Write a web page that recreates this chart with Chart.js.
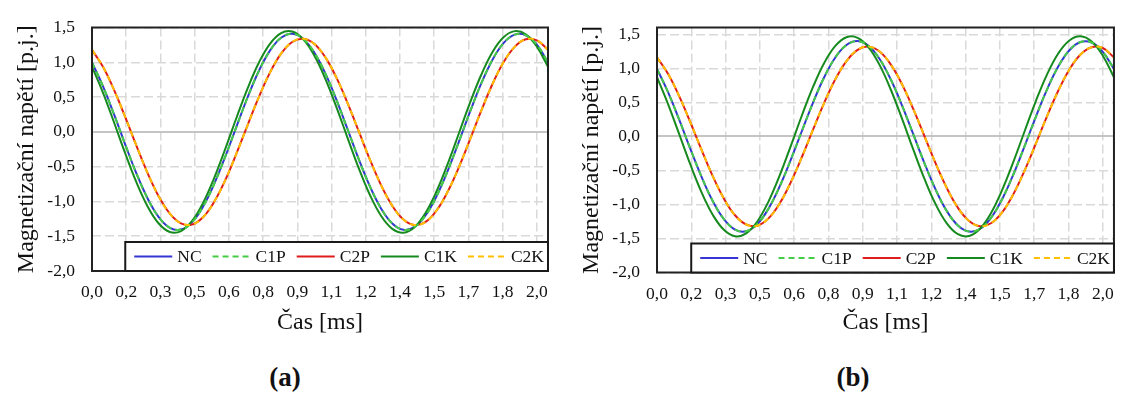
<!DOCTYPE html>
<html><head><meta charset="utf-8">
<script src="https://cdn.jsdelivr.net/npm/chart.js@4.4.1/dist/chart.umd.min.js"></script>
<style>
html,body{margin:0;padding:0;background:#fff;width:1125px;height:394px;overflow:hidden;}
canvas{position:absolute;top:0;}
#cA{left:0;} #cB{left:565px;}
.cap{position:absolute;top:361px;font:bold 27px "Liberation Serif",serif;color:#111;width:80px;text-align:center;line-height:32px;}
</style></head><body>
<canvas id="cA" width="560" height="345"></canvas>
<canvas id="cB" width="560" height="345"></canvas>
<div class="cap" style="left:245px">(a)</div>
<div class="cap" style="left:813px">(b)</div>
<script>
const timeMs = [0,0.05,0.1,0.15,0.2,0.25,0.3,0.35,0.4,0.45,0.5,0.55,0.6,0.65,0.7,0.75,0.8,0.85,0.9,0.95,1,1.05,1.1,1.15,1.2,1.25,1.3,1.35,1.4,1.45,1.5,1.55,1.6,1.65,1.7,1.75,1.8,1.85,1.9,1.95,2,2.05];
const seriesNames = ['NC','C1P','C2P','C1K','C2K'];

// chart (a)
const ncA  = [0.998,0.651,0.243,-0.187,-0.600,-0.957,-1.225,-1.379,-1.404,-1.298,-1.071,-0.744,-0.349,0.080,0.501,0.875,1.168,1.352,1.410,1.336,1.138,0.834,0.452,0.028,-0.399,-0.788,-1.104,-1.317,-1.408,-1.367,-1.199,-0.918,-0.553,-0.136,0.294,0.696,1.034,1.275,1.397,1.389,1.252,0.998];
const c1pA = [0.998,0.651,0.243,-0.187,-0.600,-0.957,-1.225,-1.379,-1.404,-1.298,-1.071,-0.744,-0.349,0.080,0.501,0.875,1.168,1.352,1.410,1.336,1.138,0.834,0.452,0.028,-0.399,-0.788,-1.104,-1.317,-1.408,-1.367,-1.199,-0.918,-0.553,-0.136,0.294,0.696,1.034,1.275,1.397,1.389,1.252,0.998];
const c2pA = [1.178,0.931,0.596,0.207,-0.202,-0.593,-0.928,-1.176,-1.315,-1.331,-1.224,-1.002,-0.687,-0.307,0.101,0.499,0.852,1.124,1.292,1.339,1.262,1.067,0.772,0.406,0.002,-0.403,-0.769,-1.064,-1.260,-1.339,-1.293,-1.126,-0.854,-0.503,-0.104,0.304,0.684,0.999,1.222,1.331,1.316,1.178];
const c1kA = [0.935,0.557,0.127,-0.315,-0.727,-1.072,-1.317,-1.439,-1.426,-1.281,-1.017,-0.657,-0.237,0.206,0.629,0.994,1.266,1.420,1.442,1.329,1.093,0.754,0.345,-0.096,-0.528,-0.911,-1.209,-1.394,-1.449,-1.370,-1.162,-0.847,-0.452,-0.016,0.423,0.821,1.144,1.359,1.448,1.402,1.226,0.935];
const c2kA = [1.178,0.931,0.596,0.207,-0.202,-0.593,-0.928,-1.176,-1.315,-1.331,-1.224,-1.002,-0.687,-0.307,0.101,0.499,0.852,1.124,1.292,1.339,1.262,1.067,0.772,0.406,0.002,-0.403,-0.769,-1.064,-1.260,-1.339,-1.293,-1.126,-0.854,-0.503,-0.104,0.304,0.684,0.999,1.222,1.331,1.316,1.178];

// chart (b)
const ncB  = [0.991,0.646,0.241,-0.186,-0.596,-0.950,-1.216,-1.369,-1.394,-1.289,-1.063,-0.739,-0.346,0.079,0.497,0.869,1.160,1.342,1.400,1.327,1.130,0.828,0.449,0.028,-0.396,-0.782,-1.097,-1.308,-1.398,-1.357,-1.190,-0.912,-0.549,-0.135,0.292,0.691,1.026,1.266,1.387,1.379,1.243,0.991];
const c1pB = [0.991,0.646,0.241,-0.186,-0.596,-0.950,-1.216,-1.369,-1.394,-1.289,-1.063,-0.739,-0.346,0.079,0.497,0.869,1.160,1.342,1.400,1.327,1.130,0.828,0.449,0.028,-0.396,-0.782,-1.097,-1.308,-1.398,-1.357,-1.190,-0.912,-0.549,-0.135,0.292,0.691,1.026,1.266,1.387,1.379,1.243,0.991];
const c2pB = [1.161,0.917,0.588,0.204,-0.199,-0.584,-0.914,-1.159,-1.295,-1.312,-1.205,-0.987,-0.676,-0.303,0.099,0.492,0.839,1.107,1.272,1.319,1.243,1.051,0.761,0.400,0.002,-0.397,-0.758,-1.049,-1.242,-1.319,-1.273,-1.109,-0.841,-0.495,-0.103,0.299,0.670,0.984,1.204,1.311,1.299,1.161];
const c1kB = [0.869,0.471,0.029,-0.416,-0.822,-1.151,-1.373,-1.468,-1.425,-1.250,-0.958,-0.577,-0.142,0.307,0.726,1.078,1.329,1.457,1.448,1.305,1.040,0.678,0.253,-0.195,-0.626,-0.998,-1.277,-1.437,-1.463,-1.353,-1.117,-0.776,-0.363,0.083,0.522,0.912,1.218,1.409,1.470,1.393,1.186,0.869];
const c2kB = [1.161,0.917,0.588,0.204,-0.199,-0.584,-0.914,-1.159,-1.295,-1.312,-1.205,-0.987,-0.676,-0.303,0.099,0.492,0.839,1.107,1.272,1.319,1.243,1.051,0.761,0.400,0.002,-0.397,-0.758,-1.049,-1.242,-1.319,-1.273,-1.109,-0.841,-0.495,-0.103,0.299,0.670,0.984,1.204,1.311,1.299,1.161];

const xTickLabels = ['0,0','0,2','0,3','0,5','0,6','0,8','0,9','1,1','1,2','1,4','1,5','1,7','1,8','2,0'];
const yTickValues = [-2,-1.5,-1,-0.5,0,0.5,1,1.5];
const yTickLabels = ['-2,0','-1,5','-1,0','-0,5','0,0','0,5','1,0','1,5'];
const xTitle = 'Čas [ms]';
const yTitle = 'Magnetizační napětí [p.j.]';

const FONT = '"Liberation Serif", "Times New Roman", serif';
const styles = {
  NC:  {color:'#3535d4', dash:[],    order:5},
  C1P: {color:'#44cc44', dash:[6,4], order:2},
  C2P: {color:'#e01c1c', dash:[],    order:4},
  C1K: {color:'#178a1f', dash:[],    order:3},
  C2K: {color:'#ffc000', dash:[6,4], order:1}
};

const frameAndLegend = {
  id: 'frameAndLegend',
  afterDatasetsDraw(chart) {
    const {ctx, chartArea: a} = chart;
    ctx.save();
    ctx.strokeStyle = '#222';
    ctx.lineWidth = 2;
    ctx.strokeRect(a.left, a.top, a.right - a.left, a.bottom - a.top);
    ctx.font = '17.5px ' + FONT;
    const sample = 38, gapS = 5, gapI = 11, padL = 9, padR = 4, H = 29;
    const items = chart.data.datasets.map(d => ({d, w: ctx.measureText(d.label).width}));
    let W = padL + padR;
    items.forEach((it, i) => { W += sample + gapS + it.w + (i < items.length - 1 ? gapI : 0); });
    const x0 = a.right - W, y0 = a.bottom - H;
    ctx.fillStyle = '#fff';
    ctx.fillRect(x0, y0, W, H);
    ctx.strokeStyle = '#1a1a1a';
    ctx.lineWidth = 2;
    ctx.strokeRect(x0, y0, W, H);
    let x = x0 + padL;
    const yc = y0 + H / 2;
    items.forEach(it => {
      ctx.beginPath();
      ctx.setLineDash(it.d.borderDash || []);
      ctx.strokeStyle = it.d.borderColor;
      ctx.lineWidth = 2;
      ctx.moveTo(x, yc); ctx.lineTo(x + sample, yc);
      ctx.stroke();
      ctx.setLineDash([]);
      x += sample + gapS;
      ctx.fillStyle = '#111';
      ctx.textBaseline = 'middle';
      ctx.textAlign = 'left';
      ctx.fillText(it.d.label, x, yc + 1);
      x += it.w + gapI;
    });
    ctx.restore();
  }
};

function makeChart(id, seriesData, yMax, padTop, padRight, xH) {
  const datasets = seriesNames.map((name, i) => ({
    label: name,
    data: timeMs.map((t, k) => ({x: t, y: seriesData[i][k]})),
    borderColor: styles[name].color,
    borderDash: styles[name].dash,
    borderWidth: 2,
    pointRadius: 0,
    tension: 0.4,
    fill: false,
    order: styles[name].order
  }));
  return new Chart(document.getElementById(id), {
    type: 'line',
    data: {datasets},
    plugins: [frameAndLegend],
    options: {
      responsive: false, animation: false, devicePixelRatio: 1,
      layout: {padding: {top: padTop, right: padRight, left: 0, bottom: 0}},
      plugins: {legend: {display: false}, tooltip: {enabled: false}},
      scales: {
        x: {
          type: 'linear', min: 0, max: 2.05,
          afterBuildTicks: s => { s.ticks = xTickLabels.map((_, i) => ({value: i * 2.0 / (xTickLabels.length - 1)})); },
          afterFit: s => { s.height = xH; },
          ticks: {autoSkip: false, maxRotation: 0, padding: 11, color: '#111',
                  font: {family: FONT, size: 17.5}, callback: (v, i) => xTickLabels[i]},
          grid: {drawTicks: false, lineWidth: 1.5,
                 color: c => (c.tick && c.tick.value === 0) ? 'rgba(0,0,0,0)' : '#d9d9d9'},
          border: {display: false, dash: [9, 4]},
          title: {display: true, text: xTitle, color: '#111',
                  font: {family: FONT, size: 24}, padding: {top: 0, bottom: 8}}
        },
        y: {
          type: 'linear', min: -2, max: yMax,
          afterBuildTicks: s => { s.ticks = yTickValues.map(v => ({value: v})); },
          afterFit: s => { s.width = 92; },
          ticks: {padding: 17, color: '#111', font: {family: FONT, size: 17.5},
                  callback: (v, i) => yTickLabels[i]},
          grid: {drawTicks: false,
                 lineWidth: c => (c.tick && c.tick.value === 0) ? 2 : 1.5,
                 color: c => (c.tick && c.tick.value === 0) ? '#c4c4c4' : '#d9d9d9'},
          border: {display: false, dash: c => (c.tick && c.tick.value === 0) ? [] : [9, 4]},
          title: {display: true, text: yTitle, color: '#111',
                  font: {family: FONT, size: 24}, padding: {top: 12, bottom: 0}}
        }
      }
    }
  });
}

makeChart('cA', [ncA, c1pA, c2pA, c1kA, c2kA], 1.5, 17.5, 12, 74);
makeChart('cB', [ncB, c1pB, c2pB, c1kB, c2kB], 1.6, 17, 10, 72.5);
</script>
</body></html>
